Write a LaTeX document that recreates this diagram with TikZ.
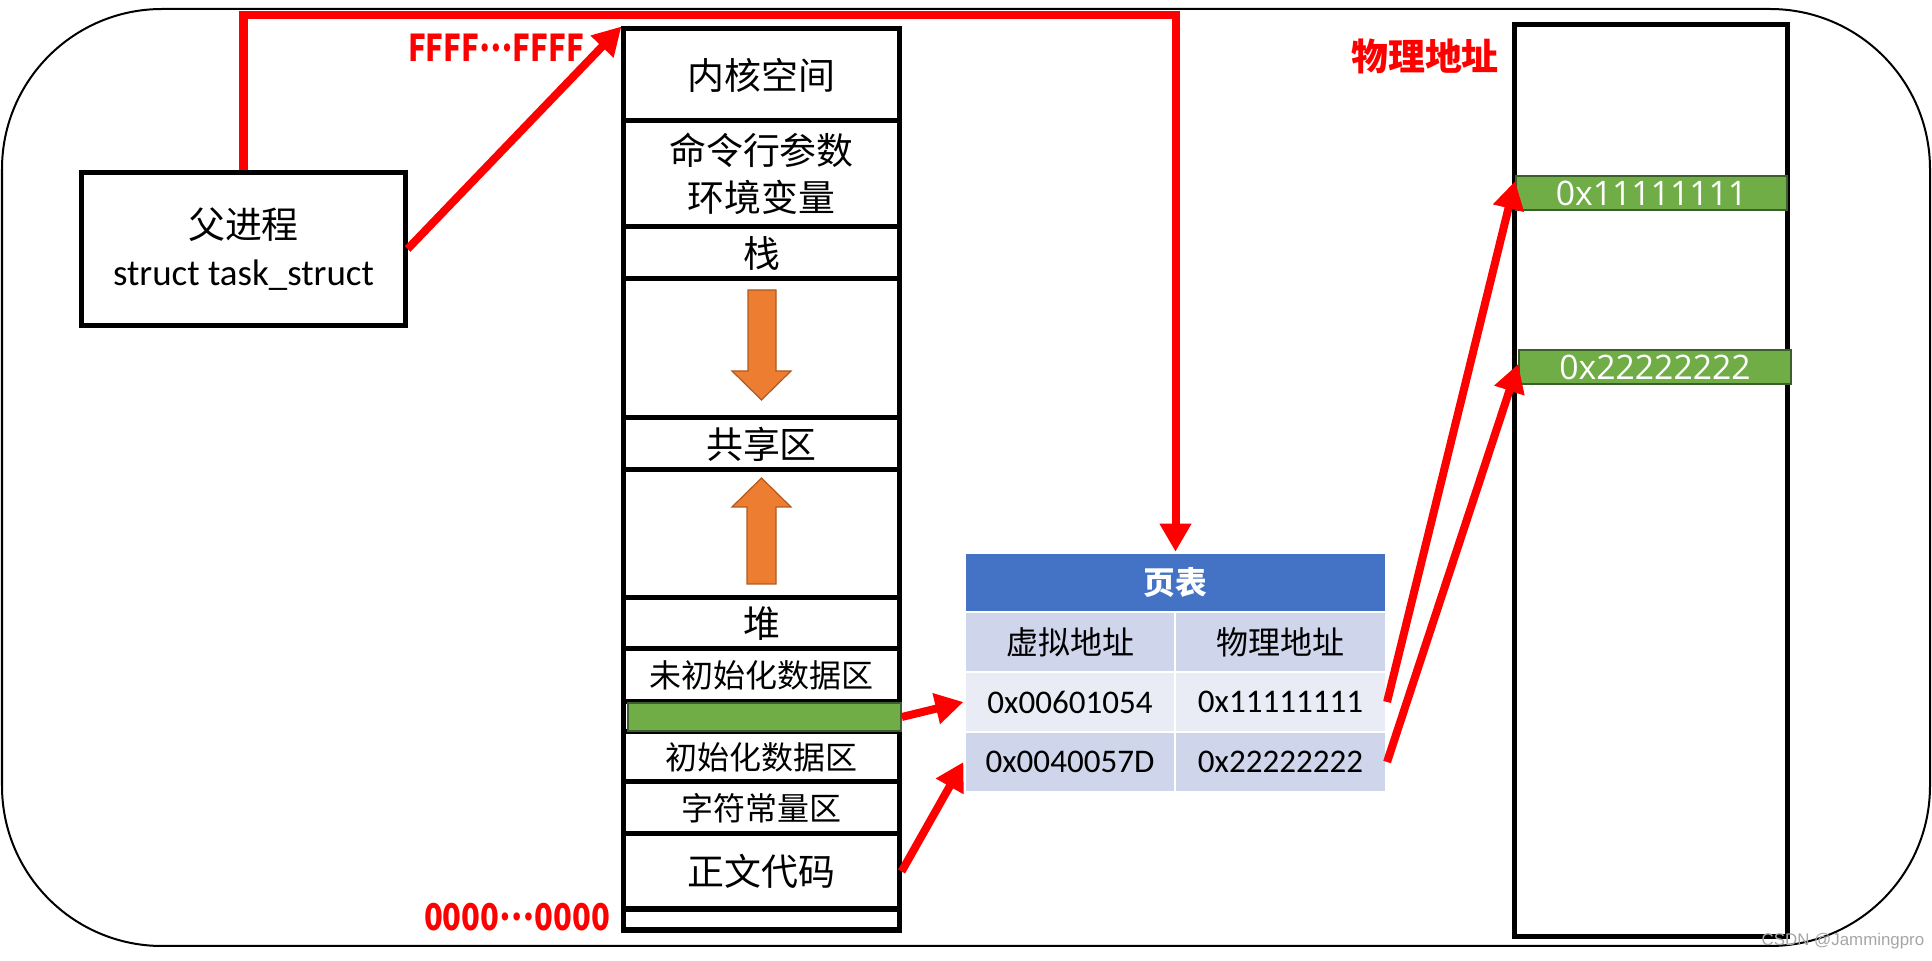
\documentclass[tikz,border=0pt]{standalone}
\usepackage{fontspec}
\usepackage{graphicx}
\setmainfont{Carlito}
\newfontfamily\cjk{Noto Sans CJK SC}
\newfontfamily\hexfont[Numbers=Monospaced]{Open Sans}
\newfontfamily\markfont{Liberation Sans}
\usetikzlibrary{arrows.meta}
\definecolor{pptred}{HTML}{FF0000}
\definecolor{pptorange}{HTML}{ED7D31}
\definecolor{pptorangedark}{HTML}{AE5A21}
\definecolor{pptgreen}{HTML}{70AD47}
\definecolor{pptgreendark}{HTML}{3B5E2A}
\definecolor{pptblue}{HTML}{4472C4}
\definecolor{rowdark}{HTML}{CFD5EA}
\definecolor{rowlight}{HTML}{E9EBF5}

\begin{document}
\begin{tikzpicture}[x=0.01cm, y=-0.01cm,
    every node/.style={font=\cjk\fontsize{10.5pt}{13.4pt}\selectfont, inner sep=0pt},
    seg/.style={draw, line width=0.05cm, minimum width=2.75cm},
    redarrow/.style={draw=pptred, line width=0.08cm, -{Triangle[length=0.28cm,width=0.3cm]}},
    cell/.style={draw=white, line width=0.025cm, minimum width=2.105cm, minimum height=0.6cm, font=\rmfamily\fontsize{9.4pt}{11pt}\selectfont},
    greenbar/.style={fill=pptgreen, draw=pptgreendark, line width=0.015cm},
    growarrow/.style={fill=pptorange, draw=pptorangedark, line width=0.012cm},
    redlabel/.style={text=pptred, font=\cjk\bfseries\fontsize{10.5pt}{12pt}\selectfont}]
    \useasboundingbox (0,0) rectangle (1932,961);
    \draw[line width=0.02cm, rounded corners=1.6cm] (2,9) rectangle (1930,946);
    % virtual address space
    \foreach \name/\top/\bot/\fs/\txt in {
        kernel/29/121/10.5pt/内核空间,
        args/121/227/10.5pt/{命令行参数\\环境变量},
        stack/227/279/10.5pt/栈,
        down/279/418/10.5pt/{},
        shared/418/470/10.5pt/共享区,
        up/470/598/10.5pt/{},
        heap/598/649/10.5pt/堆,
        bss/649/702/9.1pt/未初始化数据区,
        mid/702/732/9.1pt/{},
        data/732/782/9.1pt/初始化数据区,
        rodata/782/834/9.1pt/字符常量区,
        code/834/909/10.5pt/正文代码,
        tail/909/930/10.5pt/{}}
        \node[seg, align=center, minimum height={(\bot-\top)*0.01cm}, font=\cjk\fontsize{\fs}{13.4pt}\selectfont] (\name) at (761.5,{(\top+\bot)/2}) {\txt};
    \node[greenbar, minimum width=2.73cm, minimum height=0.28cm] (heapvar) at (764.5,717) {};
    \draw[growarrow] (748,290) -- (776,290) -- (776,371) -- (791,371) -- (761.5,400) -- (732,371) -- (748,371) -- cycle;
    \draw[growarrow] (747,584) -- (776,584) -- (776,507) -- (791,507) -- (761.5,478) -- (732,507) -- (747,507) -- cycle;
    \node[redlabel] (hi) at (496,48) {\scalebox{0.8}[1]{FFFF\raisebox{0.28em}{…}FFFF}};
    \node[redlabel] (lo) at (517,917) {\scalebox{0.84}[1]{0000\raisebox{0.28em}{…}0000}};
    % process
    \node[draw, line width=0.05cm, minimum width=3.23cm, minimum height=1.52cm, align=center] (parent) at (243.5,249) {父进程\\{\rmfamily struct task\_struct}};
    % page table
    \node[fill=pptblue, draw=white, line width=0.025cm, minimum width=4.21cm, minimum height=0.59cm, text=white, font=\cjk\bfseries\fontsize{9pt}{11pt}\selectfont] (pagetable) at (1175.5,582.5) {页表};
    \node[cell, fill=rowdark, font=\cjk\fontsize{9.1pt}{11pt}\selectfont] (vhead) at (1070,642) {虚拟地址};
    \node[cell, fill=rowdark, font=\cjk\fontsize{9.1pt}{11pt}\selectfont] (phead) at (1280.5,642) {物理地址};
    \node[cell, fill=rowlight] (va1) at (1070,702) {0x00601054};
    \node[cell, fill=rowlight] (pa1) at (1280.5,702) {0x11111111};
    \node[cell, fill=rowdark] (va2) at (1070,762) {0x0040057D};
    \node[cell, fill=rowdark] (pa2) at (1280.5,762) {0x22222222};
    % physical memory
    \node[redlabel] (physlabel) at (1425,56) {物理地址};
    \node[draw, line width=0.05cm, minimum width=2.72cm, minimum height=9.11cm] (phys) at (1651,480.5) {};
    \node[greenbar, minimum width=2.71cm, minimum height=0.34cm, text=white, font=\hexfont\fontsize{9.6pt}{10pt}\selectfont] (frame1) at (1651.5,193) {0x11111111};
    \node[greenbar, minimum width=2.72cm, minimum height=0.34cm, text=white, font=\hexfont\fontsize{9.6pt}{10pt}\selectfont] (frame2) at (1655,367) {0x22222222};
    \node[text=gray!70, font=\markfont\fontsize{4.8pt}{6pt}\selectfont] (mark) at (1843,941) {CSDN @Jammingpro};
    % links
    \coordinate (bend) at (1175.5,15);
    \draw[redarrow] (parent.north) |- (bend) -- (pagetable.north);
    \draw[redarrow] (parent.east) -- (kernel.north west);
    \draw[redarrow] (heapvar.east) -- (va1.west);
    \draw[redarrow] (code.east) -- (va2.west);
    \draw[redarrow] (pa1.east) -- ([yshift=0.12cm]frame1.west);
    \draw[redarrow] (pa2.east) -- ([yshift=0.03cm]frame2.west);
\end{tikzpicture}
\end{document}
